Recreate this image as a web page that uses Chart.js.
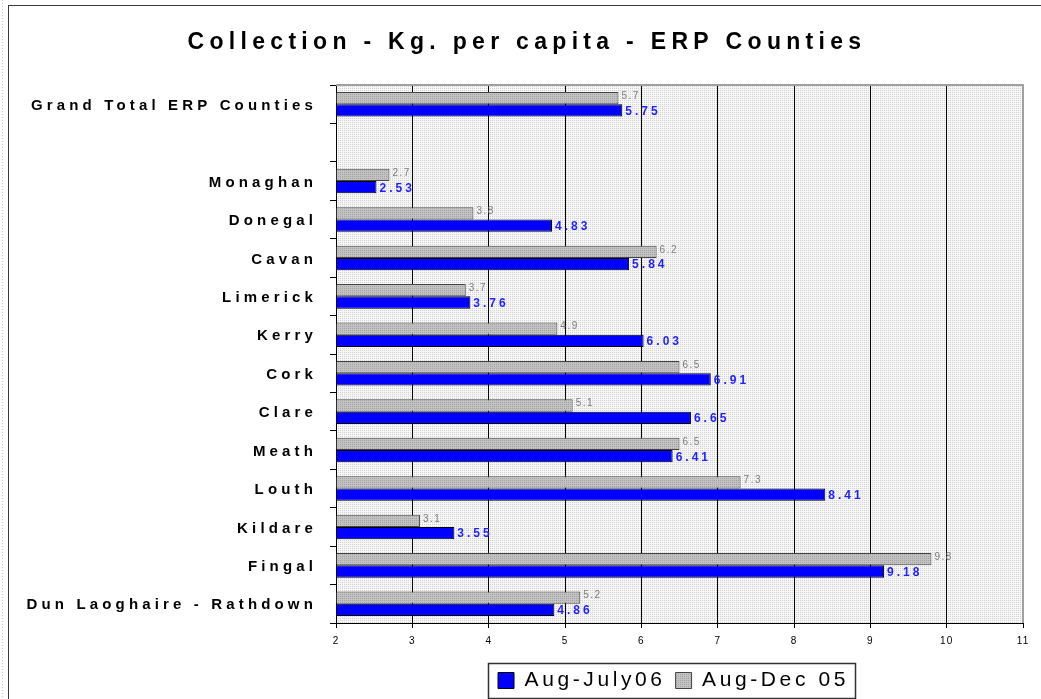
<!DOCTYPE html>
<html>
<head>
<meta charset="utf-8">
<script src="https://cdn.jsdelivr.net/npm/chart.js@4.4.1/dist/chart.umd.min.js"></script>
<style>
  html, body { margin: 0; padding: 0; background: #fff; }
  #wrap { position: relative; width: 1041px; height: 699px; overflow: hidden; }
  canvas { display: block; }
</style>
</head>
<body>
<div id="wrap"><canvas id="c" width="1041" height="699"></canvas></div>
<script>
// Collection figures, kg per capita, by county (top to bottom)
const counties = [
  'Grand Total ERP Counties', '',
  'Monaghan', 'Donegal', 'Cavan', 'Limerick', 'Kerry', 'Cork',
  'Clare', 'Meath', 'Louth', 'Kildare', 'Fingal', 'Dun Laoghaire - Rathdown'
];
const augJuly06 = [5.75, null, 2.53, 4.83, 5.84, 3.76, 6.03, 6.91, 6.65, 6.41, 8.41, 3.55, 9.18, 4.86];
const augDec05  = [5.7,  null, 2.7,  3.8,  6.2,  3.7,  4.9,  6.5,  5.1,  6.5,  7.3,  3.1,  9.8,  5.2];
const xTicks = [2, 3, 4, 5, 6, 7, 8, 9, 10, 11];
const seriesNames = ['Aug-July06', 'Aug-Dec 05'];
const titleText = 'Collection - Kg. per capita - ERP Counties';

const FONT = '"Liberation Sans", Arial, Helvetica, sans-serif';
const canvas = document.getElementById('c');
const mainCtx = canvas.getContext('2d');

// small stipple fills
function stipple(dot, base) {
  const p = document.createElement('canvas');
  p.width = 2; p.height = 2;
  const g = p.getContext('2d');
  g.fillStyle = base; g.fillRect(0, 0, 2, 2);
  g.fillStyle = dot; g.fillRect(0, 0, 1, 1);
  return mainCtx.createPattern(p, 'repeat');
}
const plotFill = stipple('#d2d2d2', '#f6f6f6');
const grayFill = stipple('#a4a4a4', '#c2c2c2');

// letter spacing for text drawn by a chart element
function spaced(obj, method, spacing) {
  if (!obj || obj['_spaced_' + method]) return;
  const orig = obj[method];
  obj[method] = function (...args) {
    const c = this.ctx;
    const prev = c.letterSpacing;
    c.letterSpacing = spacing;
    try { return orig.apply(this, args); } finally { c.letterSpacing = prev; }
  };
  obj['_spaced_' + method] = true;
}

const textSpacing = {
  id: 'textSpacing',
  beforeLayout(chart) {
    spaced(chart.titleBlock, 'draw', '5.3px');
    spaced(chart.legend, 'fit', '3.6px');
    spaced(chart.legend, 'draw', '3.6px');
    spaced(chart.scales.y, 'drawLabels', '4.15px');
    spaced(chart.scales.x, 'drawLabels', '1px');
  },
  afterLayout(chart) {
    // title is centred over the page a little right of the middle,
    // the legend a little left of the plot centre
    const t = chart.titleBlock;
    if (t) { t.left += 10.5; t.right += 10.5; }
    const lg = chart.legend;
    if (lg) { lg.left -= 6; lg.right -= 6; }
  }
};

// page frame and textured plot background
const frame = {
  id: 'frame',
  beforeDraw(chart) {
    const { ctx, chartArea: a } = chart;
    ctx.save();
    ctx.strokeStyle = '#c8c8c8';
    ctx.setLineDash([1, 2]);
    ctx.beginPath(); ctx.moveTo(2.5, 0); ctx.lineTo(2.5, 699); ctx.stroke();
    ctx.setLineDash([]);
    ctx.strokeStyle = '#3a3a3a';
    ctx.lineWidth = 1;
    ctx.strokeRect(8.5, 5.5, 1200, 800);
    ctx.fillStyle = plotFill;
    ctx.fillRect(a.left, a.top, a.right - a.left, a.bottom - a.top);
    ctx.restore();
  },
  beforeDatasetsDraw(chart) {
    const { ctx, chartArea: a } = chart;
    ctx.save();
    ctx.strokeStyle = '#a0a0a0';
    ctx.lineWidth = 2;
    ctx.beginPath();
    ctx.moveTo(a.left, a.top);
    ctx.lineTo(a.right, a.top);
    ctx.lineTo(a.right, a.bottom);
    ctx.stroke();
    ctx.restore();
  }
};

// value labels at the end of each bar
const valueLabels = {
  id: 'valueLabels',
  afterDatasetsDraw(chart) {
    const ctx = chart.ctx;
    chart.data.datasets.forEach((ds, i) => {
      const meta = chart.getDatasetMeta(i);
      const current = ds.label === seriesNames[0];
      ctx.save();
      ctx.letterSpacing = current ? '3px' : '1.5px';
      ctx.font = current ? 'bold 12px ' + FONT : '10px ' + FONT;
      ctx.fillStyle = current ? '#1f1fff' : '#7c7c7c';
      ctx.textAlign = 'left';
      ctx.textBaseline = 'middle';
      meta.data.forEach((bar, j) => {
        const v = ds.data[j];
        if (v == null) return;
        const txt = current ? v.toFixed(2) : v.toFixed(1);
        ctx.fillText(txt, bar.x + 3, current ? bar.y + 1 : bar.y - 2);
      });
      ctx.restore();
    });
  }
};

// box around the legend
const legendBox = {
  id: 'legendBox',
  afterDraw(chart) {
    const boxes = chart.legend && chart.legend.legendHitBoxes;
    if (!boxes || !boxes.length) return;
    const left = Math.min(...boxes.map(b => b.left)) - 10;
    const right = Math.max(...boxes.map(b => b.left + b.width)) + 6;
    const mid = boxes[0].top + boxes[0].height / 2;
    const ctx = chart.ctx;
    ctx.save();
    ctx.strokeStyle = '#333';
    ctx.lineWidth = 1.5;
    ctx.strokeRect(Math.round(left) + 0.5, Math.round(mid - 17.5) + 0.5, Math.round(right - left), 35);
    ctx.restore();
  }
};

new Chart(mainCtx, {
  type: 'bar',
  data: {
    labels: counties,
    datasets: [
      {
        label: seriesNames[1],
        data: augDec05,
        base: 2,
        backgroundColor: grayFill,
        borderColor: '#444',
        borderWidth: 1,
        borderSkipped: 'start'
      },
      {
        label: seriesNames[0],
        data: augJuly06,
        base: 2,
        backgroundColor: '#0000ff',
        borderColor: '#000',
        borderWidth: 1,
        borderSkipped: 'start'
      }
    ]
  },
  options: {
    indexAxis: 'y',
    responsive: false,
    animation: false,
    devicePixelRatio: 1,
    categoryPercentage: 0.64,
    barPercentage: 1.0,
    layout: { padding: { left: 10, right: 18, top: 0, bottom: -2 } },
    scales: {
      x: {
        type: 'linear',
        min: 2,
        max: 11,
        afterBuildTicks: s => { s.ticks = xTicks.map(v => ({ value: v })); },
        afterFit: s => { s.height = 37; },
        grid: {
          color: c => (c.tick && c.tick.value === 11 ? '#9a9a9a' : '#000'),
          tickColor: '#000',
          tickLength: 5,
          lineWidth: 1
        },
        border: { display: true, color: '#000', width: 1 },
        ticks: { color: '#000', padding: 7, font: { family: FONT, size: 10 } }
      },
      y: {
        afterFit: s => { s.width = 326; },
        grid: {
          drawOnChartArea: false,
          offset: true,
          color: '#000',
          tickColor: '#000',
          tickLength: 6
        },
        border: { display: true, color: '#000', width: 1 },
        ticks: {
          color: '#000', padding: 13, labelOffset: 1.5, autoSkip: false,
          font: { family: FONT, size: 15, weight: 'bold' }
        }
      }
    },
    plugins: {
      title: {
        display: true,
        text: titleText,
        color: '#000',
        font: { family: FONT, size: 23, weight: 'bold' },
        padding: { top: 28.4, bottom: 29 }
      },
      legend: {
        display: true,
        position: 'bottom',
        fullSize: false,
        reverse: true,
        labels: {
          color: '#000',
          boxWidth: 16,
          boxHeight: 16,
          padding: 10,
          font: { family: FONT, size: 21 }
        }
      },
      tooltip: { enabled: false }
    }
  },
  plugins: [textSpacing, frame, valueLabels, legendBox]
});
</script>
</body>
</html>
